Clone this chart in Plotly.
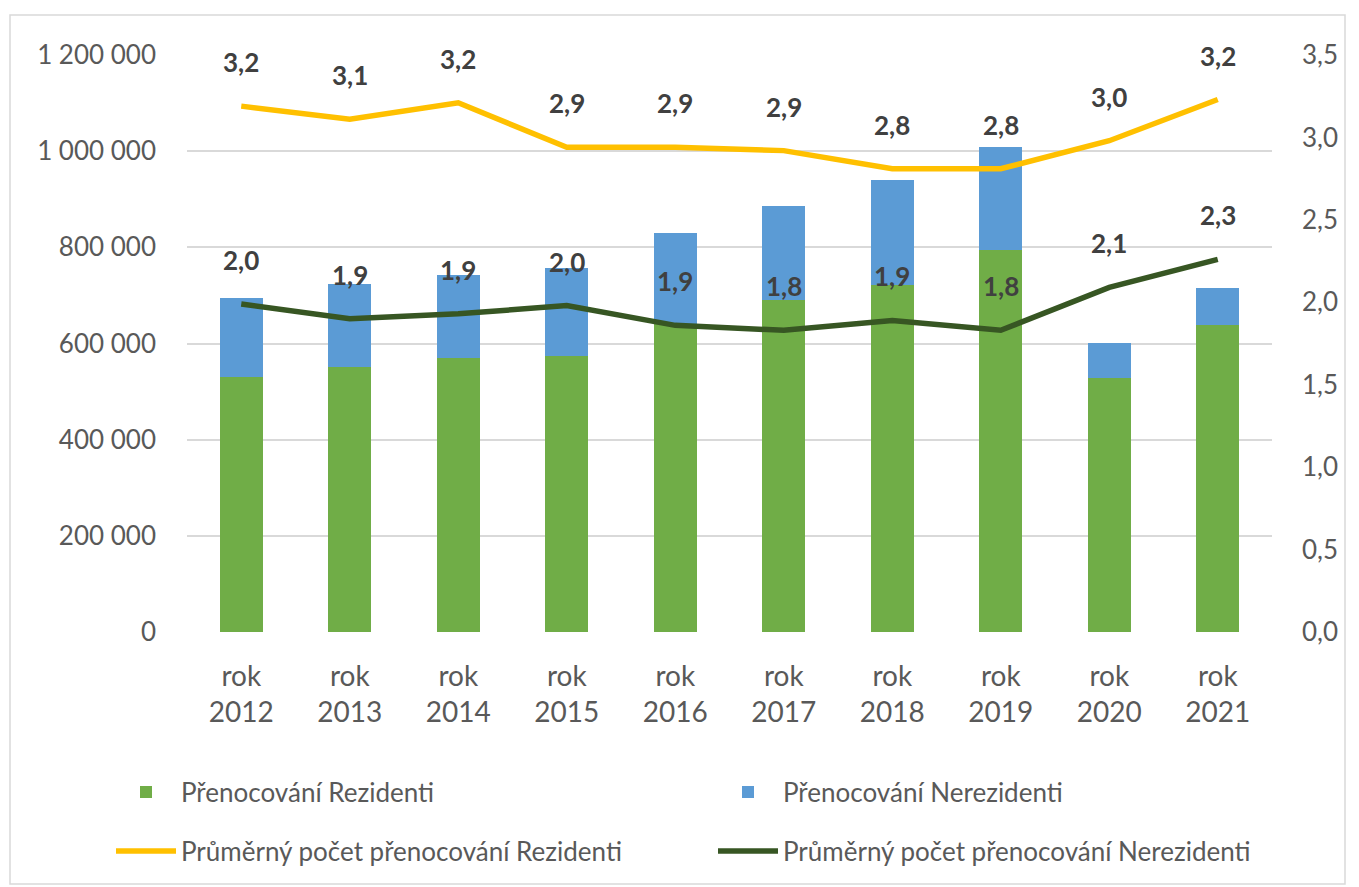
import plotly.graph_objects as go

years = ["rok<br>2012", "rok<br>2013", "rok<br>2014", "rok<br>2015", "rok<br>2016",
         "rok<br>2017", "rok<br>2018", "rok<br>2019", "rok<br>2020", "rok<br>2021"]
rezidenti = [530000, 552000, 570000, 574000, 641000, 690000, 721000, 795000, 529000, 638000]
nerezidenti = [165000, 171000, 173000, 184000, 189000, 196000, 220000, 213000, 72000, 78000]
prumer_rez = [3.19, 3.11, 3.21, 2.94, 2.94, 2.92, 2.81, 2.81, 2.98, 3.23]
prumer_nerez = [1.99, 1.90, 1.93, 1.98, 1.86, 1.83, 1.89, 1.83, 2.09, 2.26]

FONT = "Lato"
GREEN = "#70AD47"
BLUE = "#5B9BD5"
YELLOW = "#FFC000"
DARK = "#375623"

W, H = 1359, 887
OFF = 8  # page body margin
ML, MR, MT, MB = 187 - OFF, 1359 - 1272 + OFF, 55 - OFF, 887 - 632 + OFF

fig = go.Figure()
fig.add_trace(go.Bar(x=years, y=rezidenti, name="Přenocování Rezidenti",
                     marker=dict(color=GREEN, line=dict(width=0)), legend="legend"))
fig.add_trace(go.Bar(x=years, y=nerezidenti, name="Přenocování Nerezidenti",
                     marker=dict(color=BLUE, line=dict(width=0)), legend="legend"))
fig.add_trace(go.Scatter(x=years, y=prumer_rez, name="Průměrný počet přenocování Rezidenti",
                         mode="lines", line=dict(color=YELLOW, width=5.5), yaxis="y2",
                         legend="legend2"))
fig.add_trace(go.Scatter(x=years, y=prumer_nerez, name="Průměrný počet přenocování Nerezidenti",
                         mode="lines", line=dict(color=DARK, width=5.5), yaxis="y2",
                         legend="legend2"))

annotations = []
for series in (prumer_rez, prumer_nerez):
    for xc, v in zip(years, series):
        annotations.append(dict(x=xc, y=v, xref="x", yref="y2",
                                text=f"{v:.1f}".replace(".", ","),
                                showarrow=False, yshift=44, yanchor="middle",
                                font=dict(family=FONT, size=26, color="#404040", weight="bold")))

pw = W - ML - MR
ph = H - MT - MB
def px(xp):
    return (xp - OFF - ML) / pw
def py(yp):
    return (H - MB - (yp - OFF)) / ph

leg_common = dict(orientation="h", xref="paper", yref="paper",
                  x=px(103 + OFF), xanchor="left", yanchor="middle",
                  entrywidth=527, entrywidthmode="pixels", itemwidth=60,
                  font=dict(size=26, color="#595959"), traceorder="normal")

fig.update_layout(
    width=W, height=H,
    margin=dict(l=ML, r=MR, t=MT, b=MB, autoexpand=False),
    paper_bgcolor="white", plot_bgcolor="white",
    separators=", ",
    barmode="stack", bargap=0.6,
    font=dict(family=FONT, size=26, color="#595959"),
    xaxis=dict(showgrid=False, showline=False, ticks="", tickfont=dict(size=28),
               ticklabelstandoff=25),
    yaxis=dict(range=[0, 1200000], dtick=200000, tickformat=",d",
               showgrid=True, gridcolor="#d9d9d9", gridwidth=1.5,
               zeroline=False, showline=False, ticks="", ticklabelstandoff=30),
    yaxis2=dict(range=[0, 3.5], dtick=0.5, tickformat=".1f", overlaying="y", side="right",
                showgrid=False, zeroline=False, showline=False, ticks="",
                ticklabelstandoff=29),
    legend=dict(leg_common, y=py(792)),
    legend2=dict(leg_common, y=py(851)),
    annotations=annotations,
    shapes=[dict(type="rect", xref="paper", yref="paper",
                 x0=px(10), x1=px(1345), y0=py(884), y1=py(15),
                 line=dict(color="#d9d9d9", width=1.5), fillcolor="rgba(0,0,0,0)",
                 layer="below")],
)

fig.write_html("out.html")
